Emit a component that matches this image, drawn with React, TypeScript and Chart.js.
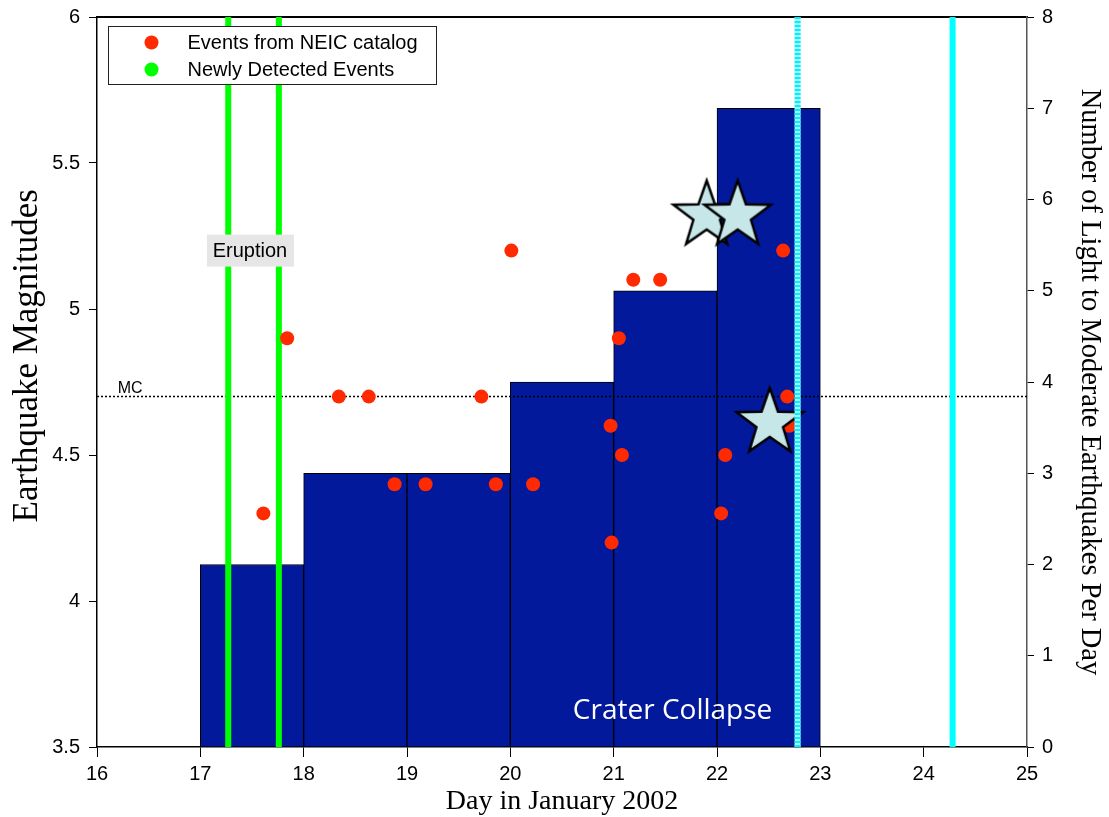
import React, { useEffect, useRef } from "react";
import { Chart, registerables } from "chart.js";

Chart.register(...registerables);

// ---- data ----
const barDays = [17.5, 18.5, 19.5, 20.5, 21.5, 22.5];
const barCounts = [2, 3, 3, 4, 5, 7];

const neicDays = [17.61, 17.84, 18.34, 18.63, 18.88, 19.18, 19.72, 19.86, 20.01, 20.22, 20.97, 20.98, 21.05, 21.08, 21.19, 21.45, 22.04, 22.08, 22.64, 22.68, 22.7];
const neicMags = [4.3, 4.9, 4.7, 4.7, 4.4, 4.4, 4.7, 4.4, 5.2, 4.4, 4.6, 4.2, 4.9, 4.5, 5.1, 5.1, 4.3, 4.5, 5.2, 4.7, 4.6];

const starDays = [21.9, 22.2, 22.51];
const starMags = [5.32, 5.32, 4.61];

const newEventDays = [17.27, 17.76];
const collapseDottedDay = 22.78;
const collapseSolidDay = 24.28;
const mcLevel = 4.7;

const xMin = 16, xMax = 25;
const magMin = 3.5, magMax = 6;
const countMin = 0, countMax = 8;

const SANS = "'Liberation Sans', Arial, sans-serif";
const SERIF = "'Liberation Serif', 'Times New Roman', serif";

function makeStar(R: number): HTMLCanvasElement {
  const size = Math.ceil(R * 2 + 8);
  const c = document.createElement("canvas");
  c.width = size;
  c.height = size;
  const ctx = c.getContext("2d")!;
  const cx = size / 2, cy = size / 2;
  const r = R * 0.4;
  ctx.beginPath();
  for (let i = 0; i < 10; i++) {
    const rad = i % 2 === 0 ? R : r;
    const a = -Math.PI / 2 + (i * Math.PI) / 5;
    const px = cx + rad * Math.cos(a);
    const py = cy + rad * Math.sin(a);
    if (i === 0) ctx.moveTo(px, py);
    else ctx.lineTo(px, py);
  }
  ctx.closePath();
  ctx.fillStyle = "#c6e6e8";
  ctx.fill();
  ctx.lineWidth = 2.5;
  ctx.lineJoin = "miter";
  ctx.strokeStyle = "#000";
  ctx.stroke();
  return c;
}

const vline = (d: number) => [
  { x: d, y: magMin },
  { x: d, y: magMax },
];

const zeroPad = (s: any) => {
  s.paddingTop = 0;
  s.paddingBottom = 0;
  s.paddingLeft = 0;
  s.paddingRight = 0;
};

const annotationPlugin = {
  id: "annotations",
  afterDraw(chart: any) {
    const ctx = chart.ctx as CanvasRenderingContext2D;
    const xs = chart.scales.x;
    const ys = chart.scales.y;
    const area = chart.chartArea;
    ctx.save();

    // Left axis title (sits a little above the plot's centre in the original)
    ctx.save();
    ctx.translate(28, ys.getPixelForValue(4.84));
    ctx.rotate(-Math.PI / 2);
    ctx.fillStyle = "#000";
    ctx.font = `35px ${SERIF}`;
    ctx.textAlign = "center";
    ctx.textBaseline = "middle";
    ctx.fillText("Earthquake Magnitudes", 0, 0);
    ctx.restore();

    // MC label
    ctx.fillStyle = "#000";
    ctx.font = `16px ${SANS}`;
    ctx.textAlign = "left";
    ctx.textBaseline = "alphabetic";
    ctx.fillText("MC", xs.getPixelForValue(16.2), ys.getPixelForValue(mcLevel) - 4);

    // Eruption label
    const ex = xs.getPixelForValue(17.48);
    const ey = ys.getPixelForValue(5.2);
    ctx.fillStyle = "#e6e6e6";
    ctx.fillRect(ex - 43, ey - 16, 87, 32);
    ctx.fillStyle = "#000";
    ctx.font = `20px ${SANS}`;
    ctx.textAlign = "center";
    ctx.textBaseline = "middle";
    ctx.fillText("Eruption", ex, ey + 1);

    // Crater Collapse
    ctx.fillStyle = "#fff";
    ctx.font = `28px 'Open Sans', ${SANS}`;
    ctx.textAlign = "center";
    ctx.textBaseline = "middle";
    ctx.fillText("Crater Collapse", xs.getPixelForValue(21.57), ys.getPixelForValue(3.622));

    // Legend
    const lx = area.left + 11.5;
    const ly = area.top + 9.5;
    ctx.fillStyle = "#fff";
    ctx.fillRect(lx, ly, 328, 58);
    ctx.strokeStyle = "#222";
    ctx.lineWidth = 1;
    ctx.strokeRect(lx, ly, 328, 58);
    const items = [
      { color: "#ff2a00", text: "Events from NEIC catalog", y: ly + 16 },
      { color: "#00ff00", text: "Newly Detected Events", y: ly + 43 },
    ];
    ctx.font = `20px ${SANS}`;
    ctx.textAlign = "left";
    ctx.textBaseline = "middle";
    for (const it of items) {
      ctx.fillStyle = it.color;
      ctx.beginPath();
      ctx.arc(lx + 43, it.y, 7, 0, Math.PI * 2);
      ctx.fill();
      ctx.fillStyle = "#000";
      ctx.fillText(it.text, lx + 79, it.y + 1);
    }
    ctx.restore();
  },
};

export default function App() {
  const canvasRef = useRef<HTMLCanvasElement | null>(null);

  useEffect(() => {
    const canvas = canvasRef.current;
    if (!canvas) return;
    const star = makeStar(35);

    const chart = new Chart(canvas, {
      type: "bar",
      data: {
        datasets: [
          {
            type: "bar",
            label: "Light to moderate earthquakes per day",
            data: barDays.map((d, i) => ({ x: d, y: barCounts[i] })),
            yAxisID: "y2",
            xAxisID: "x",
            backgroundColor: "#03199b",
            borderColor: "#000",
            borderWidth: 1,
            borderSkipped: "start",
            barPercentage: 1,
            categoryPercentage: 1,
            order: 10,
          } as any,
          {
            type: "line",
            label: "MC",
            data: [
              { x: xMin, y: mcLevel },
              { x: xMax, y: mcLevel },
            ],
            yAxisID: "y",
            borderColor: "#000",
            borderWidth: 1.5,
            borderDash: [2, 2],
            pointRadius: 0,
            order: 9,
          } as any,
          ...newEventDays.map((d) => ({
            type: "line",
            label: "Newly Detected Events",
            data: vline(d),
            yAxisID: "y",
            borderColor: "#00ff00",
            borderWidth: 6,
            borderCapStyle: "butt",
            pointRadius: 0,
            order: 8,
          })) as any[],
          {
            type: "line",
            label: "Events from NEIC catalog",
            data: neicDays.map((d, i) => ({ x: d, y: neicMags[i] })),
            yAxisID: "y",
            showLine: false,
            pointRadius: 7,
            pointBackgroundColor: "#ff2a00",
            pointBorderWidth: 0,
            borderWidth: 0,
            order: 7,
          } as any,
          {
            type: "line",
            label: "Largest events",
            data: starDays.map((d, i) => ({ x: d, y: starMags[i] })),
            yAxisID: "y",
            showLine: false,
            pointStyle: star,
            pointRadius: 35,
            order: 6,
          } as any,
          {
            type: "line",
            label: "Crater collapse (base)",
            data: vline(collapseDottedDay),
            yAxisID: "y",
            borderColor: "#a8ffff",
            borderWidth: 6,
            borderCapStyle: "butt",
            pointRadius: 0,
            order: 5,
          } as any,
          {
            type: "line",
            label: "Crater collapse",
            data: vline(collapseDottedDay),
            yAxisID: "y",
            borderColor: "#00f0ff",
            borderWidth: 6,
            borderDash: [2, 2],
            borderCapStyle: "butt",
            pointRadius: 0,
            order: 4,
          } as any,
          {
            type: "line",
            label: "Later event",
            data: vline(collapseSolidDay),
            yAxisID: "y",
            borderColor: "#00ffff",
            borderWidth: 6,
            borderCapStyle: "butt",
            pointRadius: 0,
            order: 4,
          } as any,
        ],
      },
      options: {
        animation: false,
        responsive: true,
        maintainAspectRatio: false,
        events: [],
        layout: { padding: 0, autoPadding: false },
        plugins: {
          legend: { display: false },
          tooltip: { enabled: false },
        },
        scales: {
          x: {
            type: "linear",
            position: "bottom",
            min: xMin,
            max: xMax,
            offset: false,
            ticks: {
              stepSize: 1,
              color: "#000",
              font: { family: SANS, size: 20 },
              padding: 5,
              maxRotation: 0,
              autoSkip: false,
            },
            grid: { drawOnChartArea: false, drawTicks: true, tickLength: 10, color: "#000", offset: false },
            border: { display: true, color: "#000", width: 1.5 },
            title: {
              display: true,
              text: "Day in January 2002",
              color: "#000",
              font: { family: SERIF, size: 28, lineHeight: 1 },
              padding: { top: 0, bottom: 1 },
            },
            afterFit: (s: any) => {
              s.height = 70;
              zeroPad(s);
            },
          },
          xTop: {
            type: "linear",
            position: "top",
            min: xMin,
            max: xMax,
            offset: false,
            ticks: { display: false },
            grid: { display: false, drawTicks: false },
            border: { display: true, color: "#000", width: 2 },
            afterFit: (s: any) => {
              s.height = 17;
              zeroPad(s);
            },
          },
          y: {
            type: "linear",
            position: "left",
            min: magMin,
            max: magMax,
            ticks: {
              stepSize: 0.5,
              color: "#000",
              font: { family: SANS, size: 20 },
              padding: 9,
              callback: (v: any) => String(Number(v)),
            },
            grid: { drawOnChartArea: false, drawTicks: true, tickLength: 8, color: "#000" },
            border: { display: true, color: "#000", width: 1.5 },
            title: { display: false },
            afterFit: (s: any) => {
              s.width = 97;
              zeroPad(s);
            },
          },
          y2: {
            type: "linear",
            position: "right",
            min: countMin,
            max: countMax,
            ticks: {
              stepSize: 1,
              color: "#000",
              font: { family: SANS, size: 20 },
              padding: 8,
            },
            grid: { drawOnChartArea: false, drawTicks: true, tickLength: 7, color: "#000" },
            border: { display: true, color: "#555", width: 1.5 },
            title: {
              display: true,
              text: "Number of Light to Moderate Earthquakes Per Day",
              color: "#000",
              font: { family: SERIF, size: 28.5, lineHeight: 1 },
              padding: { top: 5, bottom: 0 },
            },
            afterFit: (s: any) => {
              s.width = 82;
              zeroPad(s);
            },
          },
        },
      } as any,
      plugins: [annotationPlugin],
    });

    return () => {
      chart.destroy();
    };
  }, []);

  return (
    <div style={{ position: "absolute", left: 0, top: 0, width: 1109, height: 817, background: "#fff" }}>
      <canvas ref={canvasRef} />
    </div>
  );
}
